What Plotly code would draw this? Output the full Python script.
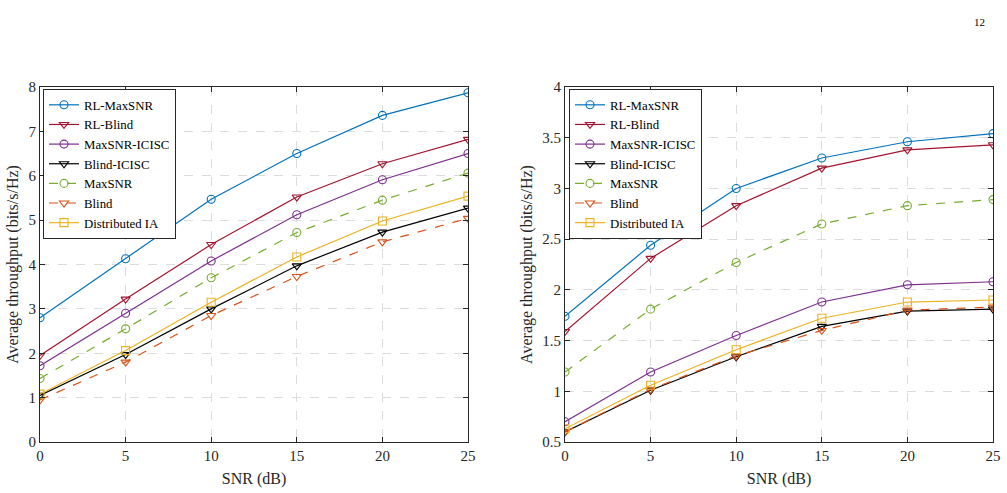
import plotly.graph_objects as go

snr = [0, 5, 10, 15, 20, 25]
names = ["RL-MaxSNR", "RL-Blind", "MaxSNR-ICISC", "Blind-ICISC", "MaxSNR", "Blind", "Distributed IA"]

left_rl_maxsnr = [2.80, 4.13, 5.47, 6.50, 7.36, 7.87]
left_rl_blind = [1.95, 3.22, 4.45, 5.52, 6.27, 6.82]
left_maxsnr_icisc = [1.72, 2.90, 4.08, 5.12, 5.91, 6.50]
left_blind_icisc = [1.05, 1.97, 3.00, 3.97, 4.73, 5.27]
left_maxsnr = [1.43, 2.55, 3.70, 4.72, 5.45, 6.06]
left_blind = [0.95, 1.80, 2.85, 3.73, 4.51, 5.04]
left_dist_ia = [1.08, 2.06, 3.15, 4.17, 4.98, 5.54]

right_rl_maxsnr = [1.74, 2.44, 3.00, 3.30, 3.46, 3.54]
right_rl_blind = [1.59, 2.31, 2.83, 3.20, 3.38, 3.43]
right_maxsnr_icisc = [0.70, 1.19, 1.55, 1.88, 2.05, 2.08]
right_blind_icisc = [0.60, 1.01, 1.34, 1.64, 1.79, 1.81]
right_maxsnr = [1.19, 1.81, 2.27, 2.65, 2.83, 2.89]
right_blind = [0.60, 1.02, 1.35, 1.60, 1.80, 1.83]
right_dist_ia = [0.63, 1.06, 1.41, 1.72, 1.88, 1.90]

left_ticks_y = [0, 1, 2, 3, 4, 5, 6, 7, 8]
right_ticks_y = [0.5, 1, 1.5, 2, 2.5, 3, 3.5, 4]
right_ticks_text = ["0.5", "1", "1.5", "2", "2.5", "3", "3.5", "4"]
x_ticks = [0, 5, 10, 15, 20, 25]

colors = ["#0072BD", "#A2142F", "#7E2F8E", "#000000", "#77AC30", "#D95319", "#EDB120"]
symbols = ["circle-open", "triangle-down-open", "circle-open", "triangle-down-open",
           "circle-open", "triangle-down-open", "square-open"]
dashes = ["solid", "solid", "solid", "solid", "dash", "dash", "solid"]

FONT = "Liberation Serif, DejaVu Serif, serif"
fig = go.Figure()

left_data = [left_rl_maxsnr, left_rl_blind, left_maxsnr_icisc, left_blind_icisc,
             left_maxsnr, left_blind, left_dist_ia]
right_data = [right_rl_maxsnr, right_rl_blind, right_maxsnr_icisc, right_blind_icisc,
              right_maxsnr, right_blind, right_dist_ia]

for i, n in enumerate(names):
    fig.add_trace(go.Scatter(x=snr, y=left_data[i], name=n, mode="lines+markers",
                             line=dict(color=colors[i], width=1.2, dash=dashes[i]),
                             marker=dict(symbol=symbols[i], size=8, color=colors[i],
                                         line=dict(width=1.1, color=colors[i])),
                             xaxis="x", yaxis="y", legend="legend"))
for i, n in enumerate(names):
    fig.add_trace(go.Scatter(x=snr, y=right_data[i], name=n, mode="lines+markers",
                             line=dict(color=colors[i], width=1.2, dash=dashes[i]),
                             marker=dict(symbol=symbols[i], size=8, color=colors[i],
                                         line=dict(width=1.1, color=colors[i])),
                             xaxis="x2", yaxis="y2", legend="legend2"))

W, H = 1007, 493
axis_common = dict(showline=True, mirror="ticks", linecolor="#262626", linewidth=1,
                   ticks="inside", ticklen=5, tickcolor="#262626",
                   showgrid=True, gridcolor="#dcdcdc", griddash="dash", gridwidth=1,
                   zeroline=False, automargin=False,
                   tickfont=dict(family=FONT, size=15, color="#262626"))

xdom1 = [40 / W, 468 / W]
xdom2 = [565 / W, 993 / W]
ydom = [1 - 442 / H, 1 - 87 / H]

legend_common = dict(font=dict(family=FONT, size=12.8, color="#000"),
                     bgcolor="white", bordercolor="#262626", borderwidth=1,
                     xanchor="left", yanchor="top", tracegroupgap=0,
                     itemwidth=30)

fig.update_layout(
    width=W, height=H,
    margin=dict(l=0, r=0, t=0, b=0),
    paper_bgcolor="white", plot_bgcolor="white",
    font=dict(family=FONT, color="#262626"),
    xaxis=dict(domain=xdom1, range=[0, 25], tickvals=x_ticks, anchor="y",
               title=dict(text="SNR (dB)", font=dict(family=FONT, size=16), standoff=9),
               **axis_common),
    yaxis=dict(domain=ydom, range=[0, 8], tickvals=left_ticks_y, anchor="x",
               title=dict(text="Average throughput (bits/s/Hz)", font=dict(family=FONT, size=16), standoff=5),
               **axis_common),
    xaxis2=dict(domain=xdom2, range=[0, 25], tickvals=x_ticks, anchor="y2",
                title=dict(text="SNR (dB)", font=dict(family=FONT, size=16), standoff=9),
                **axis_common),
    yaxis2=dict(domain=ydom, range=[0.5, 4], tickvals=right_ticks_y, ticktext=right_ticks_text,
                anchor="x2",
                title=dict(text="Average throughput (bits/s/Hz)", font=dict(family=FONT, size=16), standoff=5),
                **axis_common),
    legend=dict(x=43 / W, y=1 - 89 / H, **legend_common),
    legend2=dict(x=569 / W, y=1 - 89 / H, **legend_common),
    annotations=[dict(text="12", x=987 / W, y=1 - 14 / H, xref="paper", yref="paper",
                      showarrow=False, font=dict(family=FONT, size=11, color="#000"))],
)

fig.write_html("out.html")
